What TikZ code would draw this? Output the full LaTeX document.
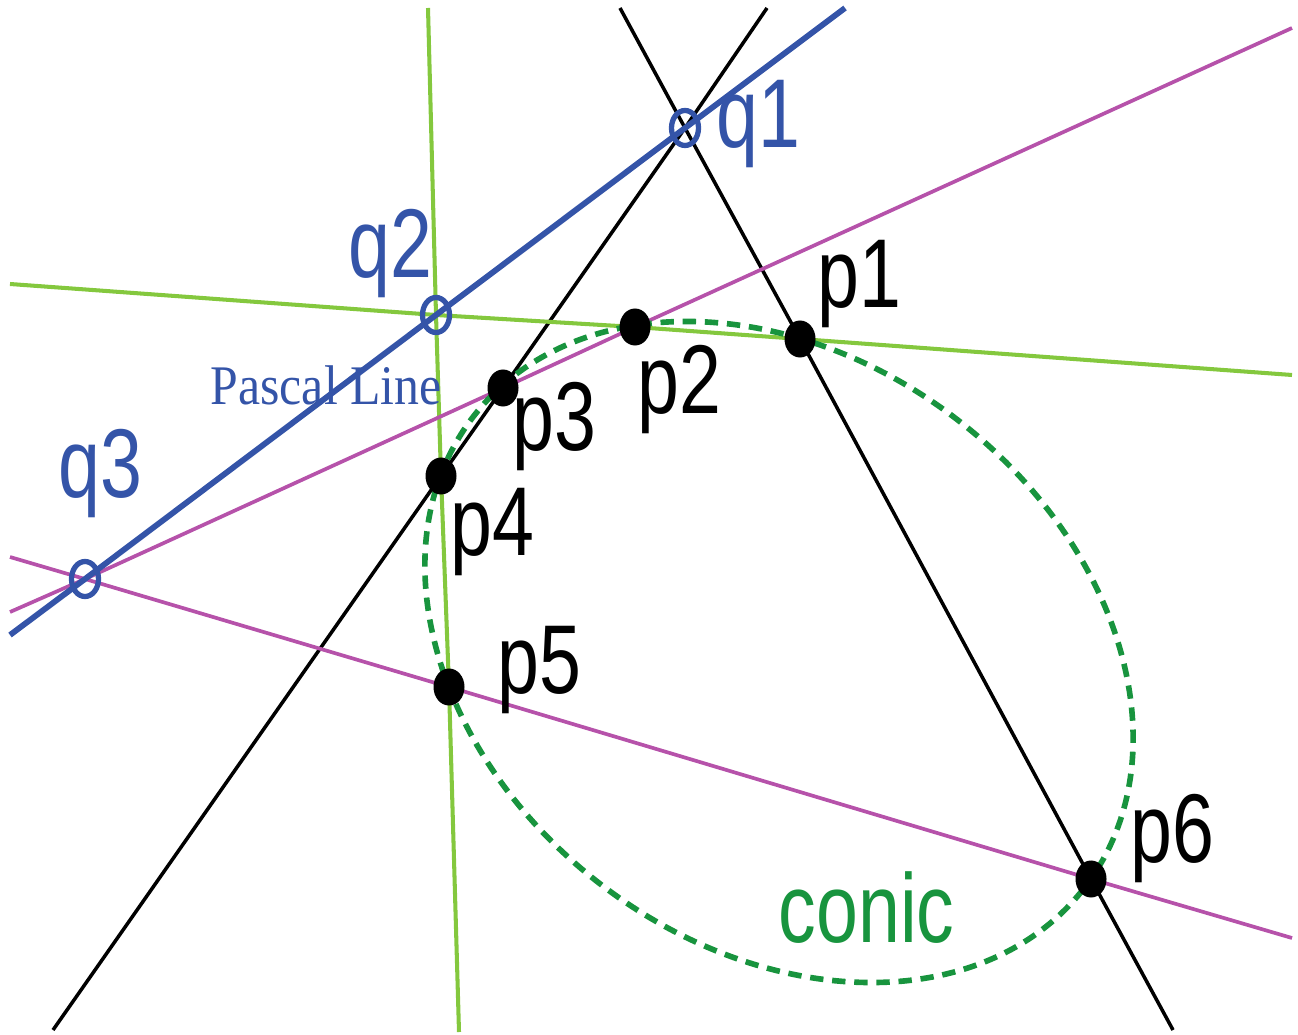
\documentclass[tikz,border=0pt]{standalone}
\usepackage{fontspec}
\usetikzlibrary{shapes.geometric}
\newfontfamily\labelfont[FakeStretch=0.77]{Liberation Sans}
\newfontfamily\pascalfont[FakeStretch=0.89]{Liberation Serif}
\definecolor{pascalblue}{RGB}{52,84,168}
\definecolor{linegreen}{RGB}{132,200,62}
\definecolor{linemagenta}{RGB}{182,82,170}
\definecolor{conicgreen}{RGB}{24,148,62}

\begin{document}
\begin{tikzpicture}[
    x=0.01cm, y=-0.01cm,
    pt/.style={ellipse,fill=black,inner sep=0pt,minimum width=0.31cm,minimum height=0.37cm},
    qpt/.style={ellipse,draw=pascalblue,line width=1.5pt,inner sep=0pt,minimum width=0.27cm,minimum height=0.35cm},
    lbl/.style={anchor=base west,inner sep=0pt,font=\labelfont\fontsize{27.8pt}{30pt}\selectfont},
    blackline/.style={draw=black,line width=1pt},
    greenline/.style={draw=linegreen,line width=1.15pt},
    magline/.style={draw=linemagenta,line width=1.05pt},
    pascal/.style={draw=pascalblue,line width=1.65pt},
    conic/.style={draw=conicgreen,line width=1.6pt,dash pattern=on 3.8pt off 2.5pt}
]
\useasboundingbox (0,0) rectangle (1298,1034);

% Points on the conic
\coordinate (p1) at (800,339);
\coordinate (p2) at (635,327);
\coordinate (p3) at (503,388);
\coordinate (p4) at (441,476);
\coordinate (p5) at (449,687);
\coordinate (p6) at (1091,879);

% Pascal points
\coordinate (q1) at (685,128);
\coordinate (q2) at (436,315);
\coordinate (q3) at (85,579);

% Line ends
\coordinate (a1) at (767,8);   \coordinate (a2) at (53,1030);
\coordinate (b1) at (620,8);   \coordinate (b2) at (1173,1030);
\coordinate (g1) at (10,284);  \coordinate (g2) at (1292,375);
\coordinate (v1) at (428,8);   \coordinate (v2) at (459,1032);
\coordinate (m1) at (1292,28); \coordinate (m2) at (10,612);
\coordinate (n1) at (10,557);  \coordinate (n2) at (1292,938);
\coordinate (l1) at (845,8);   \coordinate (l2) at (10,635);
\coordinate (c0) at (779,652);

% Hexagon sides
\draw[blackline] (a1) -- (q1) -- (p3) -- (p4) -- (a2);
\draw[blackline] (b1) -- (q1) -- (p1) -- (p6) -- (b2);
\draw[greenline] (g1) -- (q2) -- (p2) -- (p1) -- (g2);
\draw[greenline] (v1) -- (q2) -- (p4) -- (p5) -- (v2);
\draw[magline] (m1) -- (p2) -- (p3) -- (q3) -- (m2);
\draw[magline] (n1) -- (q3) -- (p5) -- (p6) -- (n2);

% Pascal line
\draw[pascal] (l1) -- (q1) -- (q2) -- (q3) -- (l2);

% Conic
\draw[conic,rotate around={-37.6:(c0)}] (c0) ellipse [x radius=3.856cm, y radius=2.927cm];

% Dots
\foreach \i in {1,...,6}
  \node[pt] (dot\i) at (p\i) {};
\foreach \i in {1,2,3}
  \node[qpt] (ring\i) at (q\i) {};

% Labels
\node[lbl] (lp1) at (817,308) {p1};
\node[lbl] (lp2) at (637,413) {p2};
\node[lbl] (lp3) at (512,450) {p3};
\node[lbl] (lp4) at (450,555) {p4};
\node[lbl] (lp5) at (497,693) {p5};
\node[lbl] (lp6) at (1130,862) {p6};
\node[lbl,text=pascalblue] (lq1) at (716,148) {q1};
\node[lbl,text=pascalblue] (lq2) at (348,278) {q2};
\node[lbl,text=pascalblue] (lq3) at (58,498) {q3};
\node[lbl,text=conicgreen] (lconic) at (778,942) {conic};
\node[anchor=base west,inner sep=0pt,text=pascalblue,font=\pascalfont\fontsize{15.9pt}{18pt}\selectfont] (lpascal) at (210,405) {Pascal Line};

\end{tikzpicture}
\end{document}
